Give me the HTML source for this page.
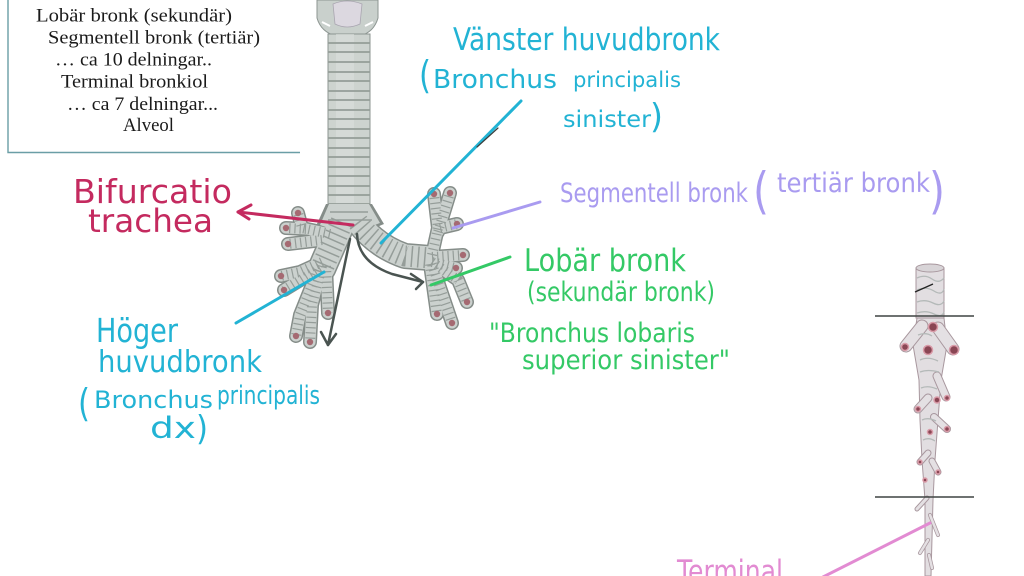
<!DOCTYPE html>
<html><head><meta charset="utf-8">
<style>
html,body{margin:0;padding:0;background:#fff;}
svg{display:block;}
.hw{font-family:"DejaVu Sans","Liberation Sans",sans-serif;}
.sr{font-family:"Liberation Serif",serif;font-size:18.5px;fill:#1a1a1a;}
</style></head>
<body>
<svg width="1024" height="576" viewBox="0 0 1024 576" xmlns="http://www.w3.org/2000/svg">
<rect width="1024" height="576" fill="#fff"/>

<!-- text box -->
<path d="M8,0 L8,152.5 L300,152.5" fill="none" stroke="#6a9ea6" stroke-width="1.4"/>
<text class="sr" x="36" y="21.5" textLength="196" lengthAdjust="spacingAndGlyphs">Lobär bronk (sekundär)</text>
<text class="sr" x="48" y="43.5" textLength="212" lengthAdjust="spacingAndGlyphs">Segmentell bronk (tertiär)</text>
<text class="sr" x="55" y="65.5" textLength="157" lengthAdjust="spacingAndGlyphs">… ca 10 delningar..</text>
<text class="sr" x="61" y="87.5" textLength="147" lengthAdjust="spacingAndGlyphs">Terminal bronkiol</text>
<text class="sr" x="67" y="110" textLength="151" lengthAdjust="spacingAndGlyphs">… ca 7 delningar...</text>
<text class="sr" x="123" y="131" textLength="51" lengthAdjust="spacingAndGlyphs">Alveol</text>

<!-- ====== main airway drawing ====== -->
<defs>
  <path id="mainR" d="M342,222 L322,268"/>
  <path id="mainL" d="M358,222 Q376,246 405,256 L430,258"/>
  <g id="br">
    <path d="M330,234 L302,228 L298,213"/>
    <path d="M306,229 L286,228"/>
    <path d="M322,240 L288,244"/>
    <path d="M322,262 L300,272 L281,276"/>
    <path d="M320,268 L284,290"/>
    <path d="M322,266 L312,305 L310,342"/>
    <path d="M318,270 L300,315 L296,336"/>
    <path d="M326,266 L328,313"/>
    <path d="M432,255 L438,228 L434,194"/>
    <path d="M438,232 L450,193"/>
    <path d="M440,228 L457,224"/>
    <path d="M432,257 L463,255"/>
    <path d="M432,262 L456,268"/>
    <path d="M432,262 L458,280 L467,302"/>
    <path d="M432,264 L452,323"/>
    <path d="M430,264 L437,314"/>
  </g>
</defs>

<!-- larynx -->
<path d="M317,0 L378,0 L378,18 Q374,32 360,36 L336,36 Q321,32 317,18 Z" fill="#c9d0cc" stroke="#8d9692" stroke-width="1"/>
<path d="M333,4 Q347,-2 362,4 L360,24 Q347,30 335,24 Z" fill="#dcd8e0" stroke="#a9a5b0" stroke-width="0.8"/>
<path d="M322,22 L330,26 M373,22 L365,26" stroke="#fff" stroke-width="2"/>

<!-- trachea -->
<rect x="328" y="34" width="42" height="180" fill="#cdd3cf" stroke="#8c9490" stroke-width="1"/>
<rect x="336" y="34" width="18" height="180" fill="#dadfdc" opacity="0.6"/>
<g stroke="#949d98" stroke-width="1.8" fill="none">
  <path d="M328,43 H370 M328,52 H370 M328,62 H370 M328,72 H370 M328,81 H370 M328,91 H370 M328,100 H370 M328,110 H370 M328,119 H370 M328,129 H370 M328,138 H370 M328,148 H370 M328,157 H370 M328,167 H370 M328,176 H370 M328,186 H370 M328,195 H370 M328,204 H370"/>
</g>

<!-- bronchi outlines -->
<g fill="none" stroke="#858d89" stroke-linecap="round" stroke-linejoin="round">
  <use href="#mainR" stroke-width="29"/>
  <use href="#mainL" stroke-width="26"/>
  <use href="#br" stroke-width="14"/>
</g>
<path d="M326,204 L372,204 L384,224 L362,233 L353,229 L340,235 L316,226 Z" fill="#858d89"/>
<g fill="none" stroke="#cbd1ce" stroke-linecap="round" stroke-linejoin="round">
  <use href="#mainR" stroke-width="26"/>
  <use href="#mainL" stroke-width="23"/>
  <use href="#br" stroke-width="11"/>
</g>
<path d="M329,204 L369,204 L380,223 L361,230 L353,227 L340,232 L320,225 Z" fill="#cbd1ce"/>
<g fill="none" stroke="#959d99" stroke-linecap="butt">
  <use href="#mainR" stroke-width="23" stroke-dasharray="1.5 5"/>
  <use href="#mainL" stroke-width="21" stroke-dasharray="1.5 5"/>
  <use href="#br" stroke-width="10" stroke-dasharray="1.2 4"/>
</g>
<path d="M330,212 H368 M328,220 H372" stroke="#959d99" stroke-width="1.5"/>
<!-- tips -->
<g fill="#a56a72">
  <circle cx="298" cy="213" r="3.2"/><circle cx="286" cy="228" r="3.2"/><circle cx="288" cy="244" r="3.2"/>
  <circle cx="281" cy="276" r="3.2"/><circle cx="284" cy="290" r="3.2"/><circle cx="310" cy="342" r="3.2"/>
  <circle cx="296" cy="336" r="3.2"/><circle cx="328" cy="313" r="3.2"/>
  <circle cx="434" cy="194" r="3.2"/><circle cx="450" cy="193" r="3.2"/><circle cx="457" cy="224" r="3.2"/>
  <circle cx="463" cy="255" r="3.2"/><circle cx="456" cy="268" r="3.2"/><circle cx="467" cy="302" r="3.2"/>
  <circle cx="452" cy="323" r="3.2"/><circle cx="437" cy="314" r="3.2"/>
</g>

<!-- ====== right figure: bronchial tree segment ====== -->
<g stroke="#a8979e" stroke-width="1" fill="#e2dee1">
  <path d="M917,318 L944,318 L947,345 L941,380 L938,420 L935,460 L933,500 L931,576 L925,576 L925,500 L922,460 L920,420 L919,380 L913,345 Z"/>
  <rect x="916" y="268" width="28" height="50"/>
  <ellipse cx="930" cy="268" rx="14" ry="4" fill="#d8d4d7"/>
</g>
<g fill="none" stroke="#a8979e" stroke-linecap="round">
  <path d="M922,326 L906,346" stroke-width="13"/>
  <path d="M938,328 L953,349" stroke-width="13"/>
  <path d="M937,376 L946,397" stroke-width="9"/>
  <path d="M928,398 L918,409" stroke-width="9"/>
  <path d="M934,417 L947,429" stroke-width="8"/>
  <path d="M928,453 L920,462" stroke-width="7"/>
  <path d="M932,461 L938,472" stroke-width="7"/>
  <path d="M927,498 L917,509" stroke-width="5"/>
  <path d="M930,515 L938,535" stroke-width="4"/>
  <path d="M928,540 L920,553" stroke-width="4"/>
  <path d="M929,555 L932,568" stroke-width="4"/>
</g>
<g fill="none" stroke="#e4e0e3" stroke-linecap="round">
  <path d="M922,326 L906,346" stroke-width="11"/>
  <path d="M938,328 L953,349" stroke-width="11"/>
  <path d="M937,376 L946,397" stroke-width="7"/>
  <path d="M928,398 L918,409" stroke-width="7"/>
  <path d="M934,417 L947,429" stroke-width="6"/>
  <path d="M928,453 L920,462" stroke-width="5"/>
  <path d="M932,461 L938,472" stroke-width="5"/>
  <path d="M927,498 L917,509" stroke-width="3"/>
  <path d="M930,515 L938,535" stroke-width="2.5"/>
  <path d="M928,540 L920,553" stroke-width="2.5"/>
  <path d="M929,555 L932,568" stroke-width="2.5"/>
</g>
<g fill="none" stroke="#b4b9b8" stroke-width="1.3">
  <path d="M917,278 Q925,274 932,279 T944,278 M917,290 Q926,286 934,291 T944,289 M917,302 Q925,299 933,303 T944,301 M917,313 Q926,310 934,314 T944,312"/>
  <path d="M918,335 Q926,332 932,336 M920,360 Q928,356 938,361 M920,372 Q928,369 939,372 M921,388 Q928,385 937,389"/>
  <path d="M922,420 Q928,417 936,421 M923,440 Q929,437 935,441"/>
</g>
<g fill="#8a4654" stroke="#d99ba8" stroke-width="1.5">
  <circle cx="933" cy="327" r="4.5"/>
  <circle cx="928" cy="350" r="4.5"/>
  <circle cx="954" cy="350" r="4.5"/>
  <circle cx="905" cy="347" r="3.5"/>
  <circle cx="937" cy="400" r="3"/>
  <circle cx="947" cy="398" r="2.5"/>
  <circle cx="918" cy="409" r="2.5"/>
  <circle cx="947" cy="429" r="2.5"/>
  <circle cx="930" cy="432" r="2.5"/>
  <circle cx="925" cy="480" r="2"/>
  <circle cx="920" cy="462" r="2"/>
  <circle cx="938" cy="472" r="2"/>
</g>
<line x1="915" y1="292" x2="933" y2="284" stroke="#222" stroke-width="1.3"/>
<line x1="875" y1="316" x2="974" y2="316" stroke="#3f4442" stroke-width="1.5"/>
<line x1="875" y1="497" x2="974" y2="497" stroke="#3f4442" stroke-width="1.5"/>

<!-- ====== connectors ====== -->
<g fill="none" stroke-linecap="round" stroke-linejoin="round">
  <path d="M353,225 L238,212" stroke="#c42a5f" stroke-width="3"/>
  <path d="M251,205 L238,212 L249,219" stroke="#c42a5f" stroke-width="3"/>
  <path d="M381,243 L521,101" stroke="#22b3d4" stroke-width="3"/>
  <path d="M477,147 L498,128" stroke="#3a3f3e" stroke-width="1.2"/>
  <path d="M236,323 L324,272" stroke="#22b3d4" stroke-width="3"/>
  <path d="M453,228 L540,202" stroke="#a99bf0" stroke-width="3"/>
  <path d="M431,285 L510,257" stroke="#34c966" stroke-width="3"/>
  <path d="M823,577 L930,523" stroke="#e28bd2" stroke-width="3"/>
  <path d="M350,239 L328,345" stroke="#4a5451" stroke-width="2.5"/>
  <path d="M321,332 L328,345 L336,334" stroke="#4a5451" stroke-width="2.5"/>
  <path d="M357,234 Q358,262 392,274 L423,282" stroke="#4a5451" stroke-width="2.5"/>
  <path d="M411,274 L423,282 L416,289" stroke="#4a5451" stroke-width="2.5"/>
</g>

<!-- ====== handwritten labels ====== -->
<g class="hw">
  <g fill="#22b3d4">
    <text x="453" y="50" font-size="31" textLength="267" lengthAdjust="spacingAndGlyphs">Vänster huvudbronk</text>
    <text x="419" y="88" font-size="38" textLength="12" lengthAdjust="spacingAndGlyphs">(</text>
    <text x="433" y="88" font-size="26" textLength="124" lengthAdjust="spacingAndGlyphs">Bronchus</text>
    <text x="573" y="87" font-size="21" textLength="108" lengthAdjust="spacingAndGlyphs">principalis</text>
    <text x="563" y="127" font-size="23" textLength="88" lengthAdjust="spacingAndGlyphs">sinister</text>
    <text x="650" y="128" font-size="34" textLength="13" lengthAdjust="spacingAndGlyphs">)</text>
  </g>
  <g fill="#c42a5f">
    <text x="73" y="203" font-size="33" textLength="159" lengthAdjust="spacingAndGlyphs">Bifurcatio</text>
    <text x="88" y="232" font-size="32" textLength="125" lengthAdjust="spacingAndGlyphs">trachea</text>
  </g>
  <g fill="#22b3d4">
    <text x="96" y="342" font-size="33" textLength="82" lengthAdjust="spacingAndGlyphs">Höger</text>
    <text x="98" y="372" font-size="30" textLength="164" lengthAdjust="spacingAndGlyphs">huvudbronk</text>
    <text x="78" y="416" font-size="38" textLength="12" lengthAdjust="spacingAndGlyphs">(</text>
    <text x="94" y="408" font-size="24" textLength="119" lengthAdjust="spacingAndGlyphs">Bronchus</text>
    <text x="217" y="404" font-size="26" textLength="103" lengthAdjust="spacingAndGlyphs">principalis</text>
    <text x="150" y="438" font-size="29" textLength="46" lengthAdjust="spacingAndGlyphs">dx</text>
    <text x="196" y="440" font-size="34" textLength="12" lengthAdjust="spacingAndGlyphs">)</text>
  </g>
  <g fill="#a99bf0">
    <text x="560" y="202" font-size="27" textLength="188" lengthAdjust="spacingAndGlyphs">Segmentell bronk</text>
    <text x="753" y="208" font-size="50" textLength="16" lengthAdjust="spacingAndGlyphs">(</text>
    <text x="777" y="192" font-size="27" textLength="153" lengthAdjust="spacingAndGlyphs">tertiär bronk</text>
    <text x="929" y="208" font-size="50" textLength="16" lengthAdjust="spacingAndGlyphs">)</text>
  </g>
  <g fill="#34c966">
    <text x="524" y="271" font-size="31" textLength="162" lengthAdjust="spacingAndGlyphs">Lobär bronk</text>
    <text x="527" y="301" font-size="27" textLength="188" lengthAdjust="spacingAndGlyphs">(sekundär bronk)</text>
    <text x="489" y="342" font-size="27" textLength="206" lengthAdjust="spacingAndGlyphs">"Bronchus lobaris</text>
    <text x="522" y="369" font-size="27" textLength="208" lengthAdjust="spacingAndGlyphs">superior sinister"</text>
  </g>
  <text x="677" y="582" font-size="31" fill="#e28bd2" textLength="106" lengthAdjust="spacingAndGlyphs">Terminal</text>
</g>
</svg>
</body></html>
